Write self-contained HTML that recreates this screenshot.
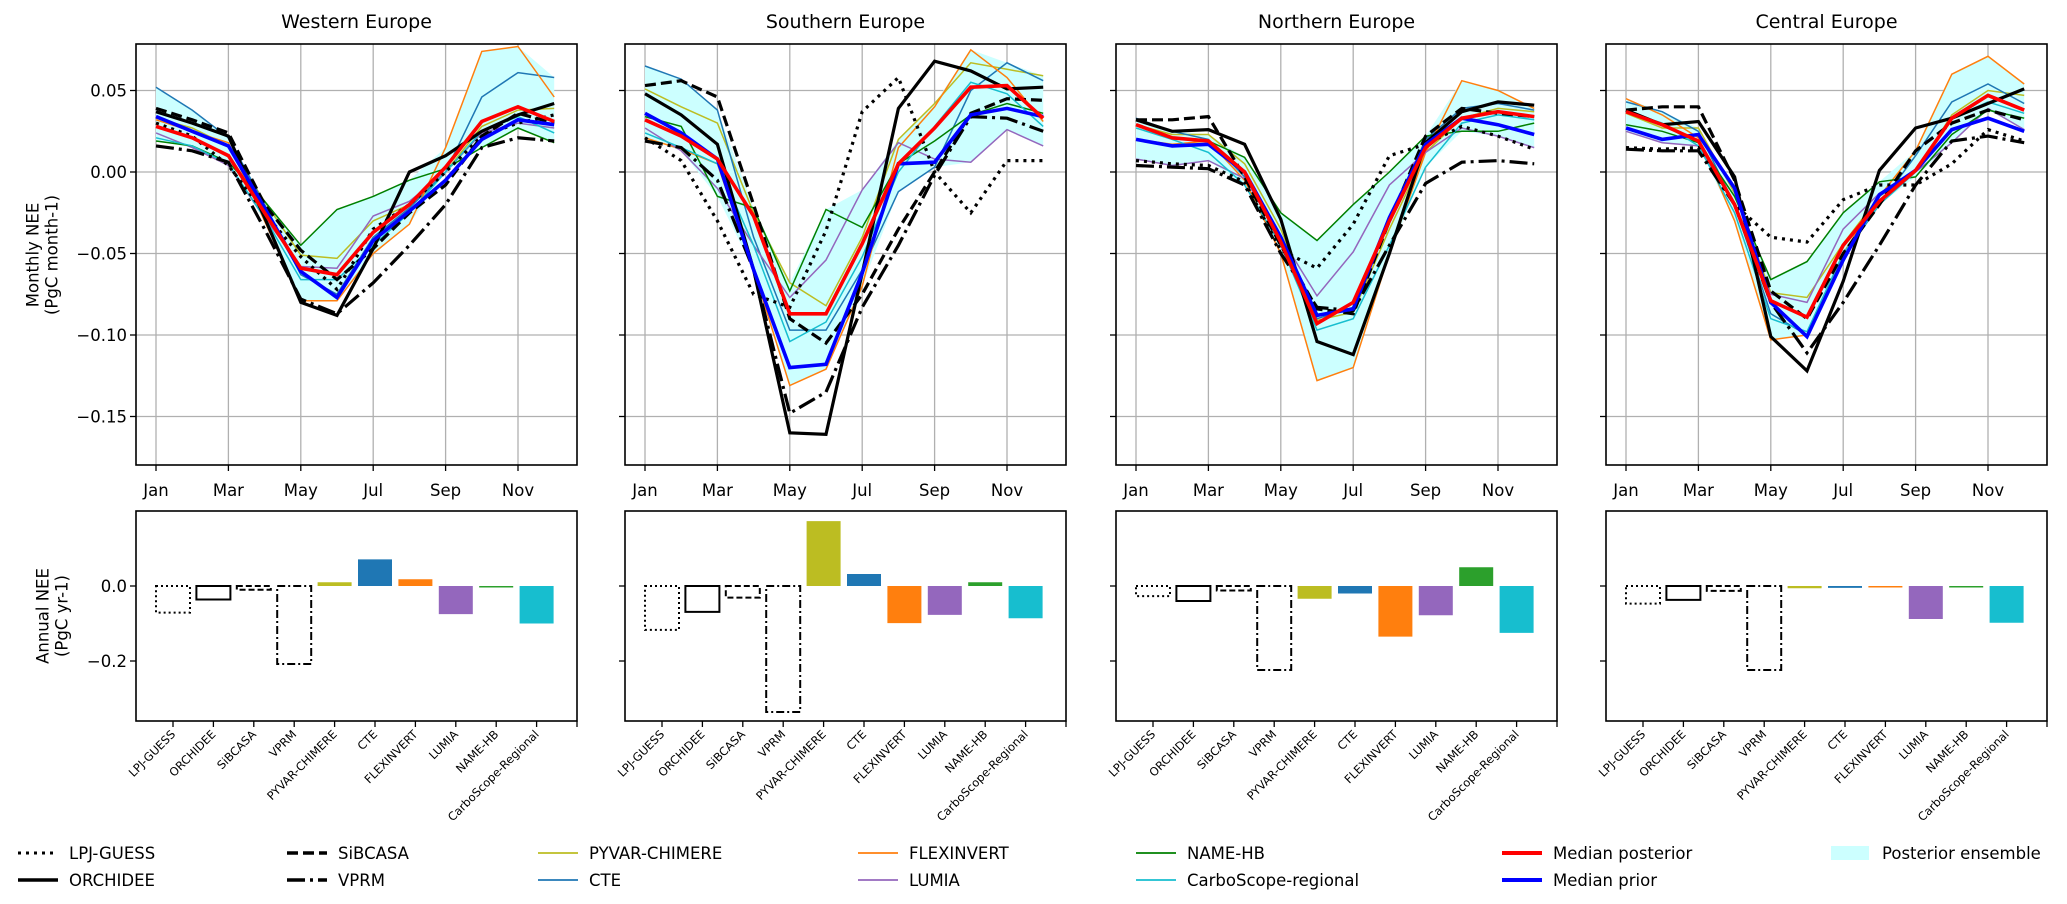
<!DOCTYPE html>
<html><head><meta charset="utf-8"><style>
html,body{margin:0;padding:0;background:#fff;}
svg{display:block;font-family:"DejaVu Sans","Liberation Sans",sans-serif;}
</style></head><body>
<svg id="chart" width="2067" height="904" viewBox="0 0 2067 904" xmlns="http://www.w3.org/2000/svg"></svg>
<script>
const regions = ["Western Europe","Southern Europe","Northern Europe","Central Europe"];
const monthLabels = ["Jan","Mar","May","Jul","Sep","Nov"];
const yTicksTop = [0.05,0.00,-0.05,-0.10,-0.15];
const yTickLabelsTop = ["0.05","0.00","\u22120.05","\u22120.10","\u22120.15"];
const yTicksBar = [0.0,-0.2];
const yTickLabelsBar = ["0.0","\u22120.2"];
const barCategories = ["LPJ-GUESS","ORCHIDEE","SiBCASA","VPRM","PYVAR-CHIMERE","CTE","FLEXINVERT","LUMIA","NAME-HB","CarboScope-Regional"];

// monthly NEE per region [W, S, N, C]
const LPJ_GUESS = [
 [0.030,0.022,0.004,-0.025,-0.052,-0.072,-0.035,-0.020,0.000,0.022,0.030,0.035],
 [0.021,0.007,-0.030,-0.075,-0.083,-0.036,0.037,0.058,0.000,-0.025,0.007,0.007],
 [0.007,0.005,0.004,-0.006,-0.048,-0.059,-0.032,0.010,0.017,0.028,0.022,0.014],
 [0.015,0.014,0.015,-0.020,-0.040,-0.043,-0.017,-0.008,-0.008,0.005,0.026,0.019]];
const ORCHIDEE = [
 [0.037,0.030,0.022,-0.028,-0.080,-0.088,-0.047,0.000,0.010,0.025,0.035,0.042],
 [0.048,0.035,0.017,-0.060,-0.160,-0.161,-0.062,0.039,0.068,0.062,0.051,0.052],
 [0.032,0.025,0.026,0.017,-0.029,-0.104,-0.112,-0.050,0.018,0.037,0.043,0.041],
 [0.038,0.029,0.031,-0.003,-0.101,-0.122,-0.067,0.001,0.027,0.033,0.042,0.051]];
const SIBCASA = [
 [0.039,0.032,0.024,-0.020,-0.048,-0.066,-0.047,-0.025,-0.008,0.022,0.036,0.030],
 [0.053,0.056,0.046,-0.020,-0.090,-0.105,-0.075,-0.035,0.000,0.036,0.045,0.044],
 [0.032,0.032,0.034,-0.003,-0.045,-0.084,-0.087,-0.030,0.022,0.039,0.036,0.034],
 [0.038,0.040,0.040,-0.005,-0.073,-0.090,-0.050,-0.020,0.013,0.030,0.038,0.032]];
const VPRM = [
 [0.016,0.013,0.006,-0.035,-0.078,-0.087,-0.068,-0.045,-0.020,0.015,0.021,0.019],
 [0.019,0.015,-0.005,-0.060,-0.148,-0.135,-0.083,-0.045,-0.002,0.034,0.033,0.025],
 [0.004,0.003,0.002,-0.008,-0.050,-0.083,-0.085,-0.045,-0.007,0.006,0.007,0.005],
 [0.014,0.013,0.013,-0.020,-0.080,-0.111,-0.080,-0.045,-0.008,0.019,0.022,0.018]];
const PYVAR = [
 [0.033,0.027,0.016,-0.018,-0.051,-0.053,-0.030,-0.020,0.000,0.028,0.038,0.039],
 [0.051,0.040,0.030,-0.025,-0.068,-0.082,-0.040,0.020,0.042,0.067,0.063,0.059],
 [0.029,0.023,0.023,0.005,-0.035,-0.091,-0.086,-0.035,0.012,0.033,0.039,0.037],
 [0.036,0.027,0.027,-0.013,-0.074,-0.077,-0.044,-0.015,0.000,0.035,0.050,0.047]];
const CTE = [
 [0.052,0.038,0.021,-0.020,-0.063,-0.075,-0.040,-0.022,0.000,0.046,0.061,0.058],
 [0.065,0.057,0.038,-0.040,-0.097,-0.097,-0.060,-0.012,0.003,0.050,0.067,0.056],
 [0.033,0.025,0.020,-0.003,-0.042,-0.090,-0.083,-0.030,0.020,0.039,0.042,0.038],
 [0.043,0.037,0.025,-0.020,-0.087,-0.100,-0.052,-0.020,0.010,0.043,0.054,0.042]];
const FLEXINVERT = [
 [0.032,0.025,0.018,-0.030,-0.079,-0.079,-0.050,-0.032,0.015,0.074,0.077,0.046],
 [0.021,0.014,0.005,-0.060,-0.131,-0.121,-0.070,0.015,0.040,0.075,0.058,0.031],
 [0.020,0.017,0.019,-0.005,-0.050,-0.128,-0.120,-0.050,0.012,0.056,0.050,0.039],
 [0.045,0.035,0.021,-0.030,-0.103,-0.100,-0.050,-0.015,0.013,0.060,0.071,0.054]];
const LUMIA = [
 [0.024,0.015,0.004,-0.028,-0.058,-0.059,-0.027,-0.018,0.000,0.024,0.030,0.027],
 [0.027,0.013,-0.010,-0.045,-0.077,-0.054,-0.011,0.018,0.008,0.006,0.026,0.016],
 [0.008,0.004,0.007,-0.004,-0.040,-0.076,-0.049,-0.008,0.012,0.027,0.022,0.015],
 [0.025,0.018,0.016,-0.020,-0.075,-0.080,-0.035,-0.013,0.000,0.018,0.039,0.026]];
const NAME_HB = [
 [0.019,0.016,0.006,-0.018,-0.045,-0.023,-0.015,-0.005,0.002,0.015,0.027,0.018],
 [0.034,0.028,-0.015,-0.022,-0.073,-0.023,-0.034,0.005,0.019,0.035,0.042,0.036],
 [0.029,0.021,0.019,0.009,-0.025,-0.042,-0.020,0.000,0.022,0.025,0.025,0.030],
 [0.029,0.025,0.018,-0.015,-0.066,-0.055,-0.025,-0.006,-0.003,0.023,0.038,0.033]];
const CARBOSCOPE = [
 [0.021,0.016,0.005,-0.028,-0.066,-0.066,-0.045,-0.025,0.000,0.025,0.034,0.024],
 [0.024,0.015,0.005,-0.045,-0.104,-0.092,-0.052,0.000,0.028,0.055,0.048,0.028],
 [0.027,0.020,0.012,-0.008,-0.045,-0.097,-0.090,-0.045,0.003,0.030,0.035,0.032],
 [0.037,0.030,0.016,-0.025,-0.090,-0.098,-0.050,-0.020,0.000,0.033,0.043,0.036]];
const MEDIAN_POSTERIOR = [
 [0.028,0.021,0.010,-0.025,-0.059,-0.063,-0.037,-0.020,0.003,0.031,0.040,0.031],
 [0.032,0.022,0.008,-0.027,-0.087,-0.087,-0.044,0.005,0.027,0.052,0.053,0.033],
 [0.029,0.021,0.019,0.000,-0.043,-0.093,-0.080,-0.030,0.015,0.033,0.037,0.034],
 [0.037,0.029,0.019,-0.020,-0.079,-0.089,-0.045,-0.018,0.001,0.033,0.047,0.038]];
const MEDIAN_PRIOR = [
 [0.034,0.025,0.016,-0.022,-0.061,-0.077,-0.042,-0.024,-0.005,0.020,0.032,0.029],
 [0.036,0.024,0.008,-0.060,-0.120,-0.118,-0.062,0.005,0.006,0.035,0.039,0.034],
 [0.020,0.016,0.017,0.000,-0.040,-0.088,-0.084,-0.028,0.017,0.033,0.029,0.023],
 [0.027,0.020,0.023,-0.010,-0.080,-0.101,-0.054,-0.014,0.001,0.026,0.033,0.025]];

// annual NEE bars per region
const annualWestern  = [-0.071,-0.036,-0.010,-0.208,0.010,0.071,0.018,-0.075,-0.003,-0.100];
const annualSouthern = [-0.117,-0.069,-0.031,-0.336,0.173,0.032,-0.099,-0.077,0.010,-0.086];
const annualNorthern = [-0.027,-0.040,-0.012,-0.224,-0.034,-0.020,-0.135,-0.078,0.050,-0.125];
const annualCentral  = [-0.047,-0.037,-0.013,-0.224,-0.006,-0.005,-0.003,-0.088,-0.002,-0.098];
const annualAll = [annualWestern, annualSouthern, annualNorthern, annualCentral];

const NS = "http://www.w3.org/2000/svg";
const svg = document.getElementById("chart");
function mk(tag, attrs, parent) {
  const e = document.createElementNS(NS, tag);
  for (const k in attrs) e.setAttribute(k, attrs[k]);
  (parent || svg).appendChild(e);
  return e;
}
const panelLeft = [136, 625, 1116, 1606];
const PW = 441, TOP_T = 44, TOP_B = 465, BAR_T = 511, BAR_B = 721;
function xMonth(p, m) { return panelLeft[p] + 20 + m * 36.2; }
function yTop(v) { return 172 - v * 1630; }
function xBar(p, i) { return panelLeft[p] + 37 + i * 40.4; }
function yBar(v) { return 586 - v * 375; }

const blackStyles = [
  {arr: LPJ_GUESS, name: "lpj-guess", dash: "3,5", w: 3.2, cap: "butt"},
  {arr: ORCHIDEE, name: "orchidee", dash: "", w: 3.2},
  {arr: SIBCASA, name: "sibcasa", dash: "11,5", w: 3.2},
  {arr: VPRM, name: "vprm", dash: "18,5,3,5", w: 3.2}];
const thinStyles = [
  {arr: PYVAR, name: "pyvar-chimere", color: "#bcbd22"},
  {arr: CTE, name: "cte", color: "#1f77b4"},
  {arr: FLEXINVERT, name: "flexinvert", color: "#ff7f0e"},
  {arr: LUMIA, name: "lumia", color: "#9467bd"},
  {arr: NAME_HB, name: "name-hb", color: "#008000"},
  {arr: CARBOSCOPE, name: "carboscope-regional", color: "#17becf"}];
const barStyles = [
  {dash: "2,3"}, {dash: ""}, {dash: "6,3"}, {dash: "8,3,2,3"},
  {fill: "#bcbd22"}, {fill: "#1f77b4"}, {fill: "#ff7f0e"}, {fill: "#9467bd"}, {fill: "#2ca02c"}, {fill: "#17becf"}];

function pts(p, arr) { return arr.map((v, m) => xMonth(p, m).toFixed(1) + "," + yTop(v).toFixed(1)).join(" "); }

for (let p = 0; p < 4; p++) {
  const L = panelLeft[p];
  const g = mk("g", {});
  
  
  const t = mk("text", {x: L + PW / 2, y: 28, "text-anchor": "middle", "font-size": 19}, g);
  t.textContent = regions[p];
  
  
  // grid
  for (let k = 0; k < 6; k++) {
    const x = xMonth(p, 2 * k);
    const gl = mk("line", {x1: x, x2: x, y1: TOP_T, y2: TOP_B, stroke: "#b0b0b0", "stroke-width": 1.3}, g);
    
    
    mk("line", {x1: x, x2: x, y1: TOP_B, y2: TOP_B + 6, stroke: "#000", "stroke-width": 1.3}, g);
    const tl = mk("text", {x: x, y: 496, "text-anchor": "middle", "font-size": 16.5}, g);
    tl.textContent = monthLabels[k];
    
    
  }
  yTicksTop.forEach((v, k) => {
    const y = yTop(v);
    const gl = mk("line", {x1: L, x2: L + PW, y1: y, y2: y, stroke: "#b0b0b0", "stroke-width": 1.3}, g);
    
    
    mk("line", {x1: L - 6, x2: L, y1: y, y2: y, stroke: "#000", "stroke-width": 1.3}, g);
    if (p === 0) {
      const tl = mk("text", {x: L - 9, y: y + 6, "text-anchor": "end", "font-size": 16.5}, g);
      tl.textContent = yTickLabelsTop[k];
      
      
    }
  });
  // ensemble envelope
  const up = [], lo = [];
  for (let m = 0; m < 12; m++) {
    const vals = thinStyles.map(s => s.arr[p][m]);
    up.push(Math.max(...vals)); lo.push(Math.min(...vals));
  }
  const envPts = up.map((v, m) => xMonth(p, m) + "," + yTop(v)).concat(lo.slice().reverse().map((v, i) => xMonth(p, 11 - i) + "," + yTop(v))).join(" ");
  const env = mk("polygon", {points: envPts, fill: "#ccffff", stroke: "none"}, g);
  
  
  thinStyles.forEach(s => {
    const l = mk("polyline", {points: pts(p, s.arr[p]), fill: "none", stroke: s.color, "stroke-width": 1.5}, g);
    
    
  });
  blackStyles.forEach(s => {
    const a = {points: pts(p, s.arr[p]), fill: "none", stroke: "#000", "stroke-width": s.w};
    if (s.dash) a["stroke-dasharray"] = s.dash;
    const l = mk("polyline", a, g);
    
    
  });
  const lp = mk("polyline", {points: pts(p, MEDIAN_PRIOR[p]), fill: "none", stroke: "#0000ff", "stroke-width": 3.6}, g);
  
  
  const lq = mk("polyline", {points: pts(p, MEDIAN_POSTERIOR[p]), fill: "none", stroke: "#ff0000", "stroke-width": 3.6}, g);
  
  
  const fr = mk("rect", {x: L, y: TOP_T, width: PW, height: TOP_B - TOP_T, fill: "none", stroke: "#000", "stroke-width": 1.6}, g);
  
  

  // bar panel
  const gb = mk("g", {});
  
  
  annualAll[p].forEach((v, i) => {
    const x = xBar(p, i) - 17, y0 = yBar(0), y1 = yBar(v);
    const st = barStyles[i];
    const a = {x: x, y: Math.min(y0, y1), width: 34, height: Math.max(Math.abs(y1 - y0), 1.5)};
    if (st.fill) { a.fill = st.fill; } else { a.fill = "none"; a.stroke = "#000"; a["stroke-width"] = 2; if (st.dash) a["stroke-dasharray"] = st.dash; }
    const r = mk("rect", a, gb);
    
    
  });
  for (let i = 0; i <= 10; i++) {
    const x = xBar(p, i);
    mk("line", {x1: x, x2: x, y1: BAR_B, y2: BAR_B + 6, stroke: "#000", "stroke-width": 1.3}, gb);
    if (i < 10) {
      const tl = mk("text", {x: x + 3, y: BAR_B + 14, "text-anchor": "end", "font-size": 11.5, transform: "rotate(-45 " + (x + 3) + " " + (BAR_B + 14) + ")"}, gb);
      tl.textContent = barCategories[i];
      
      
    }
  }
  yTicksBar.forEach((v, k) => {
    const y = yBar(v);
    mk("line", {x1: L - 6, x2: L, y1: y, y2: y, stroke: "#000", "stroke-width": 1.3}, gb);
    if (p === 0) {
      const tl = mk("text", {x: L - 9, y: y + 6, "text-anchor": "end", "font-size": 16.5}, gb);
      tl.textContent = yTickLabelsBar[k];
      
      
    }
  });
  const fb = mk("rect", {x: L, y: BAR_T, width: PW, height: BAR_B - BAR_T, fill: "none", stroke: "#000", "stroke-width": 1.6}, gb);
  
  
}

// axis titles
function vtitle(lines, cx, cy, name) {
  const g = mk("g", {transform: "rotate(-90 " + cx + " " + cy + ")"});
  
  
  lines.forEach((s, i) => {
    const t = mk("text", {x: cx, y: cy + (i - (lines.length - 1) / 2) * 19 + 6, "text-anchor": "middle", "font-size": 16.5}, g);
    t.textContent = s;
  });
}
vtitle(["Monthly NEE", "(PgC month-1)"], 42, 255, "monthly-y-axis-title");
vtitle(["Annual NEE", "(PgC yr-1)"], 52, 616, "annual-y-axis-title");

// legend
const legendItems = [
  {label: "LPJ-GUESS", x: 18, row: 0, type: "line", stroke: "#000", w: 3, dash: "3,5"},
  {label: "ORCHIDEE", x: 18, row: 1, type: "line", stroke: "#000", w: 3.5, dash: ""},
  {label: "SiBCASA", x: 287, row: 0, type: "line", stroke: "#000", w: 3.5, dash: "11,5"},
  {label: "VPRM", x: 287, row: 1, type: "line", stroke: "#000", w: 3.5, dash: "18,5,3,5"},
  {label: "PYVAR-CHIMERE", x: 538, row: 0, type: "line", stroke: "#bcbd22", w: 1.8},
  {label: "CTE", x: 538, row: 1, type: "line", stroke: "#1f77b4", w: 1.8},
  {label: "FLEXINVERT", x: 858, row: 0, type: "line", stroke: "#ff7f0e", w: 1.8},
  {label: "LUMIA", x: 858, row: 1, type: "line", stroke: "#9467bd", w: 1.8},
  {label: "NAME-HB", x: 1136, row: 0, type: "line", stroke: "#008000", w: 1.8},
  {label: "CarboScope-regional", x: 1136, row: 1, type: "line", stroke: "#17becf", w: 1.8},
  {label: "Median posterior", x: 1502, row: 0, type: "line", stroke: "#ff0000", w: 4},
  {label: "Median prior", x: 1502, row: 1, type: "line", stroke: "#0000ff", w: 4},
  {label: "Posterior ensemble", x: 1831, row: 0, type: "patch"}];
const lg = mk("g", {});


legendItems.forEach(it => {
  const cy = it.row === 0 ? 853 : 880;
  const e = mk("g", {}, lg);
  
  
  if (it.type === "patch") {
    mk("rect", {x: it.x, y: cy - 7, width: 38, height: 14, fill: "#ccffff"}, e);
  } else {
    const a = {x1: it.x, x2: it.x + 40, y1: cy, y2: cy, stroke: it.stroke, "stroke-width": it.w};
    if (it.dash) a["stroke-dasharray"] = it.dash;
    mk("line", a, e);
  }
  const t = mk("text", {x: it.x + (it.type === "patch" ? 51 : 51), y: cy + 6, "font-size": 16.5}, e);
  t.textContent = it.label;
});
</script>
</body></html>
